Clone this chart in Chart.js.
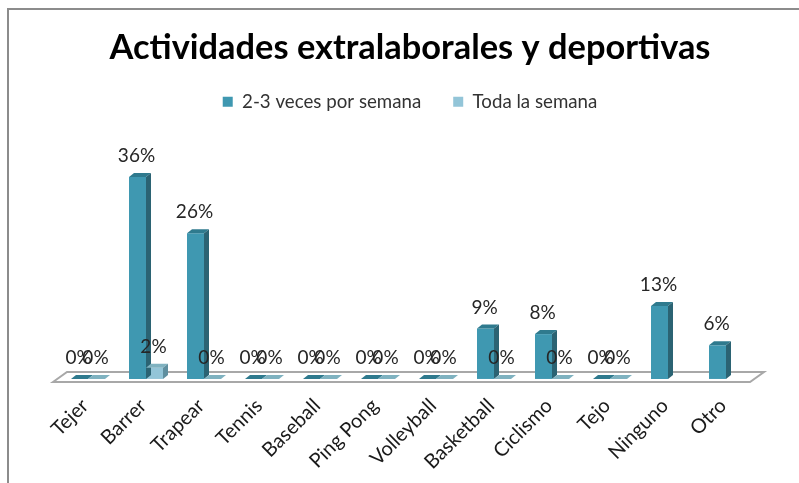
<!DOCTYPE html>
<html>
<head>
<meta charset="utf-8">
<script src="https://cdn.jsdelivr.net/npm/chart.js@4/dist/chart.umd.js"></script>
<style>
  html, body { margin: 0; padding: 0; background: #fff; overflow: hidden; }
  #frame { position: absolute; left: 7px; top: 8px; width: 792px; height: 475px; border-top: 2px solid #8c8c8c; border-left: 2px solid #8c8c8c; box-sizing: border-box; }
  #wrap { position: absolute; left: 24px; top: 0; width: 775px; height: 483px; }
</style>
</head>
<body>
<div id="frame"></div>
<div id="wrap"><canvas id="chart" width="775" height="483"></canvas></div>
<script>
const categories = ["Tejer", "Barrer", "Trapear", "Tennis", "Baseball", "Ping Pong", "Volleyball", "Basketball", "Ciclismo", "Tejo", "Ninguno", "Otro"];
const semana23 = [0, 36, 26, 0, 0, 0, 0, 9, 8, 0, 13, 6];
const todaSemana = [0, 2, 0, 0, 0, 0, 0, 0, 0, 0, null, null];

const FONT = "Lato, Carlito, sans-serif";
const DEPTH_X = 5, DEPTH_Y = -4;

// shades for the fake 3D faces, one per dataset
const faces = [
  { front: "#3f98b1", side: "#2b6373", top: "#2f7a8e" },
  { front: "#93c5d8", side: "#5f8f9f", top: "#7fb2c0" }
];

function poly(ctx, pts, fill) {
  ctx.beginPath();
  pts.forEach((p, i) => (i ? ctx.lineTo(p[0], p[1]) : ctx.moveTo(p[0], p[1])));
  ctx.closePath();
  ctx.fillStyle = fill;
  ctx.fill();
}

/* =======================
   FLOOR + BAR DEPTH + LABELS
======================= */
const floorPlugin = {
  id: "floor",
  beforeDatasetsDraw(chart) {
    const { ctx, scales: { x, y } } = chart;
    const base = y.getPixelForValue(0);
    const l = x.left - 6, r = x.right - 5, front = base + 3, back = base - 7;
    ctx.save();
    ctx.beginPath();
    ctx.moveTo(l, front);
    ctx.lineTo(l + 14, back);
    ctx.lineTo(r + 14, back);
    ctx.lineTo(r, front);
    ctx.closePath();
    ctx.fillStyle = "#fff";
    ctx.fill();
    ctx.lineWidth = 2;
    ctx.strokeStyle = "#a8a8a8";
    ctx.stroke();
    ctx.restore();
  }
};

const depthPlugin = {
  id: "depth",
  afterDatasetsDraw(chart) {
    const ctx = chart.ctx;
    ctx.save();
    chart.data.datasets.forEach((ds, d) => {
      const c = faces[d];
      chart.getDatasetMeta(d).data.forEach((bar, i) => {
        if (ds.data[i] === null) return;
        const l = bar.x - bar.width / 2, r = bar.x + bar.width / 2;
        poly(ctx, [[l, bar.y], [l + DEPTH_X, bar.y + DEPTH_Y], [r + DEPTH_X, bar.y + DEPTH_Y], [r, bar.y]], c.top);
        if (ds.data[i] > 0) {
          poly(ctx, [[r, bar.y], [r + DEPTH_X, bar.y + DEPTH_Y], [r + DEPTH_X, bar.base + DEPTH_Y], [r, bar.base]], c.side);
        }
      });
    });
    // value labels go on top of everything, overlapping where the bars are close
    ctx.font = "19px " + FONT;
    ctx.fillStyle = "#262626";
    ctx.textAlign = "center";
    ctx.textBaseline = "middle";
    chart.data.datasets.forEach((ds, d) => {
      chart.getDatasetMeta(d).data.forEach((bar, i) => {
        if (ds.data[i] === null) return;
        ctx.fillText(ds.data[i] + "%", bar.x - 1, bar.y - 21);
      });
    });
    ctx.restore();
  }
};

new Chart(document.getElementById("chart"), {
  type: "bar",
  data: {
    labels: categories,
    datasets: [
      { label: "2-3 veces por semana", data: semana23, backgroundColor: faces[0].front },
      { label: "Toda la semana", data: todaSemana, backgroundColor: faces[1].front }
    ]
  },
  plugins: [floorPlugin, depthPlugin],
  options: {
    responsive: false,
    animation: false,
    datasets: { bar: { categoryPercentage: 0.586, barPercentage: 1 } },
    layout: { padding: { left: 35, right: 38, top: 16, bottom: 2 } },
    plugins: {
      title: {
        display: true,
        text: "Actividades extralaborales y deportivas",
        color: "#000",
        font: { family: FONT, size: 34.4, weight: "bold" },
        padding: { top: 11, bottom: -8 }
      },
      legend: {
        position: "top",
        labels: { boxWidth: 10, boxHeight: 10, padding: 32, color: "#333", font: { family: FONT, size: 18.7 } }
      },
      tooltip: { enabled: false }
    },
    scales: {
      x: {
        grid: { display: false },
        border: { display: false },
        ticks: { autoSkip: false, minRotation: 45, maxRotation: 45, padding: 7, labelOffset: -3, color: "#1a1a1a", font: { family: FONT, size: 20 } }
      },
      // blank axis on the right, only there to keep the title centred over the floor
      y: {
        position: "right",
        min: 0,
        max: 46,
        grid: { display: false },
        border: { display: false },
        ticks: { display: false },
        afterFit(scale) { scale.width = 6; }
      }
    }
  }
});
</script>
</body>
</html>
